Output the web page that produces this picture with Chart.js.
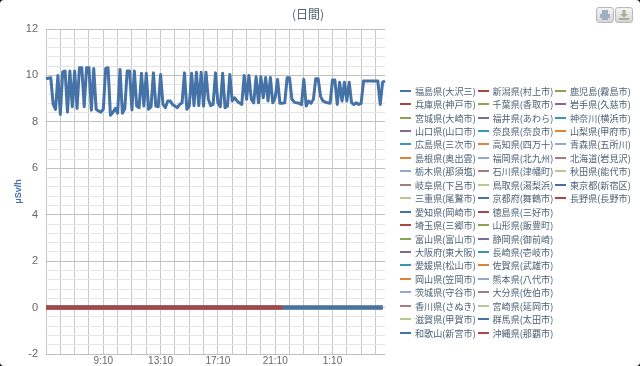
<!DOCTYPE html>
<html>
<head>
<meta charset="utf-8">
<title>日間</title>
<script src="https://cdn.jsdelivr.net/npm/chart.js@4/dist/chart.umd.js"></script>
<style>
    html, body { margin: 0; padding: 0; background: #000; }
    #box { position: relative; width: 640px; height: 366px; background: #fff; border-radius: 4px; overflow: hidden;
        font-family: "Noto Sans CJK JP", sans-serif; }
    #chart { position: absolute; left: 0; top: 0; }
    #title { position: absolute; left: 208px; width: 200px; top: 6px; text-align: center; font-size: 12px; line-height: 16px; color: #4d6275; }
    #legend { position: absolute; left: 400px; top: 84px; display: grid; grid-auto-flow: column;
        grid-template-rows: repeat(19, 13.44px); grid-auto-columns: 77.5px; }
    .item { display: flex; align-items: center; font-size: 9.1px; color: #4d6275; white-space: nowrap; }
    .item i { display: block; width: 11px; height: 2px; margin-right: 4px; flex: none; }
    .btn { position: absolute; top: 7px; width: 16px; height: 14px; border: 1px solid #b8b8b8; border-radius: 3px;
        background: linear-gradient(#f4f4f4, #d6d6d6); }
    .btn svg { display: block; }
</style>
</head>
<body>
<div id="box">
    <canvas id="chart" width="640" height="366"></canvas>
    <div id="title">(日間)</div>
    <div id="legend"></div>
    <div class="btn" style="left:596px"><svg width="16" height="14"><path d="M5 2h6v4H5zM3 6h10v4H3zM5 9h6v3H5z" fill="#9fb0c4"/></svg></div>
    <div class="btn" style="left:615px"><svg width="16" height="14"><path d="M6.5 2h3v4H12L8 9.5 4 6h2.5zM3 10h10v2H3z" fill="#a9ae97"/></svg></div>
</div>
<script>
// column by column, the same order the series have in the legend
const stations = [
    '福島県(大沢三)', '兵庫県(神戸市)', '宮城県(大崎市)', '山口県(山口市)', '広島県(三次市)', '島根県(奥出雲)', '栃木県(那須塩)',
    '岐阜県(下呂市)', '三重県(尾鷲市)', '愛知県(岡崎市)', '埼玉県(三郷市)', '富山県(富山市)', '大阪府(東大阪)', '愛媛県(松山市)',
    '岡山県(笠岡市)', '茨城県(守谷市)', '香川県(さぬき)', '滋賀県(甲賀市)', '和歌山(新宮市)',
    '新潟県(村上市)', '千葉県(香取市)', '福井県(あわら)', '奈良県(奈良市)', '高知県(四万十)', '福岡県(北九州)', '石川県(津幡町)',
    '鳥取県(湯梨浜)', '京都府(舞鶴市)', '徳島県(三好市)', '山形県(飯豊町)', '静岡県(御前崎)', '長崎県(壱岐市)', '佐賀県(武雄市)',
    '熊本県(八代市)', '大分県(佐伯市)', '宮崎県(延岡市)', '群馬県(太田市)', '沖縄県(那覇市)',
    '鹿児島(霧島市)', '岩手県(久慈市)', '神奈川(横浜市)', '山梨県(甲府市)', '青森県(五所川)', '北海道(岩見沢)', '秋田県(能代市)',
    '東京都(新宿区)', '長野県(長野市)'
];

const palette = ['#4572A7', '#AA4643', '#89A54E', '#80699B', '#3D96AE', '#DB843D', '#92A8CD', '#A47D7C', '#B5CA92'];

const times = [
    '5:10', '5:20', '5:30', '5:40', '5:50', '6:00', '6:10', '6:20', '6:30', '6:40', '6:50', '7:00',
    '7:10', '7:20', '7:30', '7:40', '7:50', '8:00', '8:10', '8:20', '8:30', '8:40', '8:50', '9:00',
    '9:10', '9:20', '9:30', '9:40', '9:50', '10:00', '10:10', '10:20', '10:30', '10:40', '10:50', '11:00',
    '11:10', '11:20', '11:30', '11:40', '11:50', '12:00', '12:10', '12:20', '12:30', '12:40', '12:50', '13:00',
    '13:10', '13:20', '13:30', '13:40', '13:50', '14:00', '14:10', '14:20', '14:30', '14:40', '14:50', '15:00',
    '15:10', '15:20', '15:30', '15:40', '15:50', '16:00', '16:10', '16:20', '16:30', '16:40', '16:50', '17:00',
    '17:10', '17:20', '17:30', '17:40', '17:50', '18:00', '18:10', '18:20', '18:30', '18:40', '18:50', '19:00',
    '19:10', '19:20', '19:30', '19:40', '19:50', '20:00', '20:10', '20:20', '20:30', '20:40', '20:50', '21:00',
    '21:10', '21:20', '21:30', '21:40', '21:50', '22:00', '22:10', '22:20', '22:30', '22:40', '22:50', '23:00',
    '23:10', '23:20', '23:30', '23:40', '23:50', '0:00', '0:10', '0:20', '0:30', '0:40', '0:50', '1:00',
    '1:10', '1:20', '1:30', '1:40', '1:50', '2:00', '2:10', '2:20', '2:30', '2:40', '2:50', '3:00',
    '3:10', '3:20', '3:30', '3:40', '3:50', '4:00', '4:10', '4:20', '4:30', '4:40', '4:50'
];
const xTickLabels = ['9:10', '13:10', '17:10', '21:10', '1:10'];
const yTickLabels = [-2, 0, 2, 4, 6, 8, 10, 12];

const fukushima = [
    9.86, 9.88, 9.90, 8.75, 8.54, 10.0, 8.32, 10.15, 10.19, 8.42, 10.19, 8.65,
    10.19, 8.58, 10.33, 10.33, 8.65, 10.33, 10.33, 8.50, 10.30, 8.54, 8.47, 8.42,
    8.54, 10.30, 10.33, 8.28, 8.40, 8.58, 8.37, 10.26, 8.37, 8.56, 10.19, 10.19,
    8.51, 10.19, 8.68, 8.61, 10.09, 8.68, 10.09, 8.54, 8.65, 10.11, 8.68, 8.65,
    10.04, 8.75, 8.61, 8.90, 8.90, 8.75, 8.68, 8.61, 8.75, 8.82, 10.11, 8.54,
    8.68, 10.09, 8.70, 10.14, 8.70, 10.14, 8.68, 10.14, 8.97, 8.70, 8.75, 10.11,
    8.82, 8.65, 10.09, 8.61, 8.68, 10.04, 8.90, 9.04, 8.90, 8.82, 8.75, 10.0,
    8.97, 10.0, 8.97, 8.82, 9.94, 8.82, 9.94, 9.04, 9.91, 8.90, 9.91, 8.82,
    9.04, 9.83, 8.80, 8.80, 8.82, 9.90, 9.90, 8.97, 8.85, 8.82, 8.80, 8.74,
    9.83, 8.68, 8.90, 8.80, 8.97, 9.86, 9.86, 9.10, 8.90, 8.85, 8.82, 8.80,
    9.80, 9.80, 8.75, 9.71, 8.90, 9.71, 8.90, 9.71, 8.82, 8.75, 8.82, 8.75,
    8.80, 9.76, 9.76, 9.76, 9.76, 9.76, 9.76, 9.76, 8.75, 9.71, 9.76
];

// the stations that sit on zero stop at different times
const zeroToEnd = [
    0, 0, 0, 0, 0, 0, 0, 0, 0, 0, 0, 0, 0, 0, 0, 0, 0, 0, 0, 0, 0, 0, 0, 0, 0, 0, 0, 0, 0, 0, 0, 0, 0, 0, 0, 0,
    0, 0, 0, 0, 0, 0, 0, 0, 0, 0, 0, 0, 0, 0, 0, 0, 0, 0, 0, 0, 0, 0, 0, 0, 0, 0, 0, 0, 0, 0, 0, 0, 0, 0, 0, 0,
    0, 0, 0, 0, 0, 0, 0, 0, 0, 0, 0, 0, 0, 0, 0, 0, 0, 0, 0, 0, 0, 0, 0, 0, 0, 0, 0, 0, 0, 0, 0, 0, 0, 0, 0, 0,
    0, 0, 0, 0, 0, 0, 0, 0, 0, 0, 0, 0, 0, 0, 0, 0, 0, 0, 0, 0, 0, 0, 0, 0, 0, 0, 0, 0, 0, 0, 0, 0, 0
];
const zeroTo440 = [
    0, 0, 0, 0, 0, 0, 0, 0, 0, 0, 0, 0, 0, 0, 0, 0, 0, 0, 0, 0, 0, 0, 0, 0, 0, 0, 0, 0, 0, 0, 0, 0, 0, 0, 0, 0,
    0, 0, 0, 0, 0, 0, 0, 0, 0, 0, 0, 0, 0, 0, 0, 0, 0, 0, 0, 0, 0, 0, 0, 0, 0, 0, 0, 0, 0, 0, 0, 0, 0, 0, 0, 0,
    0, 0, 0, 0, 0, 0, 0, 0, 0, 0, 0, 0, 0, 0, 0, 0, 0, 0, 0, 0, 0, 0, 0, 0, 0, 0, 0, 0, 0, 0, 0, 0, 0, 0, 0, 0,
    0, 0, 0, 0, 0, 0, 0, 0, 0, 0, 0, 0, 0, 0, 0, 0, 0, 0, 0, 0, 0, 0, 0, 0, 0, 0, 0, 0, 0, 0, 0, 0, 0, 0
];
const zeroTo2140 = [
    0, 0, 0, 0, 0, 0, 0, 0, 0, 0, 0, 0, 0, 0, 0, 0, 0, 0, 0, 0, 0, 0, 0, 0, 0, 0, 0, 0, 0, 0, 0, 0, 0, 0, 0, 0,
    0, 0, 0, 0, 0, 0, 0, 0, 0, 0, 0, 0, 0, 0, 0, 0, 0, 0, 0, 0, 0, 0, 0, 0, 0, 0, 0, 0, 0, 0, 0, 0, 0, 0, 0, 0,
    0, 0, 0, 0, 0, 0, 0, 0, 0, 0, 0, 0, 0, 0, 0, 0, 0, 0, 0, 0, 0, 0, 0, 0, 0, 0, 0, 0
];

/**
 * Pick the values of a station.
 *
 * @param name The station label.
 * @returns The series values.
 */
function valuesOf(name) {
    if (name === '福島県(大沢三)') return fukushima;
    if (name === '長野県(長野市)') return zeroTo2140;
    if (name === '鹿児島(霧島市)') return zeroToEnd;
    return zeroTo440;
}

const datasets = stations.map((name, i) => ({
    label: name,
    data: valuesOf(name),
    borderColor: palette[i % palette.length],
    backgroundColor: palette[i % palette.length],
    borderWidth: i === 0 ? 3 : 4,
    borderJoinStyle: 'round',
    pointRadius: 0,
    tension: 0,
    // later series are painted over the earlier ones
    order: stations.length - i,
}));

const chart = new Chart(document.getElementById('chart').getContext('2d'), {
    type: 'line',
    data: { labels: times, datasets: datasets },
    options: {
        responsive: false,
        maintainAspectRatio: false,
        animation: false,
        layout: { padding: { top: 29, right: 255, left: 0, bottom: 0 } },
        plugins: { legend: { display: false }, tooltip: { enabled: false } },
        scales: {
            x: {
                type: 'category',
                offset: false,
                afterFit: scale => { scale.height = 12; },
                border: { display: false },
                grid: {
                    drawTicks: false,
                    color: ctx => ctx.index % 6 === 0 ? '#c8c8c8' : 'rgba(0,0,0,0)',
                },
                ticks: {
                    autoSkip: false,
                    minRotation: 0,
                    maxRotation: 0,
                    padding: 1,
                    color: '#666',
                    font: { family: 'Liberation Sans', size: 10 },
                    callback(value) {
                        const label = this.getLabelForValue(value);
                        return xTickLabels.includes(label) ? label : '';
                    },
                },
            },
            y: {
                min: -2,
                max: 12,
                afterFit: scale => { scale.width = 46; },
                border: { display: false },
                grid: {
                    // the tick padding also reserves room under the area, so the gap comes from an invisible tick
                    tickLength: 5,
                    tickColor: 'rgba(0,0,0,0)',
                    color: ctx => yTickLabels.includes(Math.round(ctx.tick.value * 10) / 10) ? '#c0c0c0' : '#e4e4e4',
                },
                title: {
                    display: true,
                    text: 'μSv/h',
                    color: '#4572A7',
                    padding: { top: 13, bottom: 0 },
                    font: { family: 'Liberation Sans', size: 9, weight: 'bold' },
                },
                ticks: {
                    stepSize: 0.4,
                    autoSkip: false,
                    padding: 3,
                    color: '#666',
                    font: { family: 'Liberation Sans', size: 11 },
                    callback: value => {
                        const rounded = Math.round(value * 10) / 10;
                        return yTickLabels.includes(rounded) ? rounded : '';
                    },
                },
            },
        },
    },
});

// The legend is laid out in columns, built from the datasets in their own order
const legendBox = document.getElementById('legend');
chart.data.datasets.forEach(dataset => {
    const row = document.createElement('div');
    row.className = 'item';
    row.innerHTML = `<i style="background:${dataset.borderColor}"></i>${dataset.label}`;
    legendBox.append(row);
});
</script>
</body>
</html>
